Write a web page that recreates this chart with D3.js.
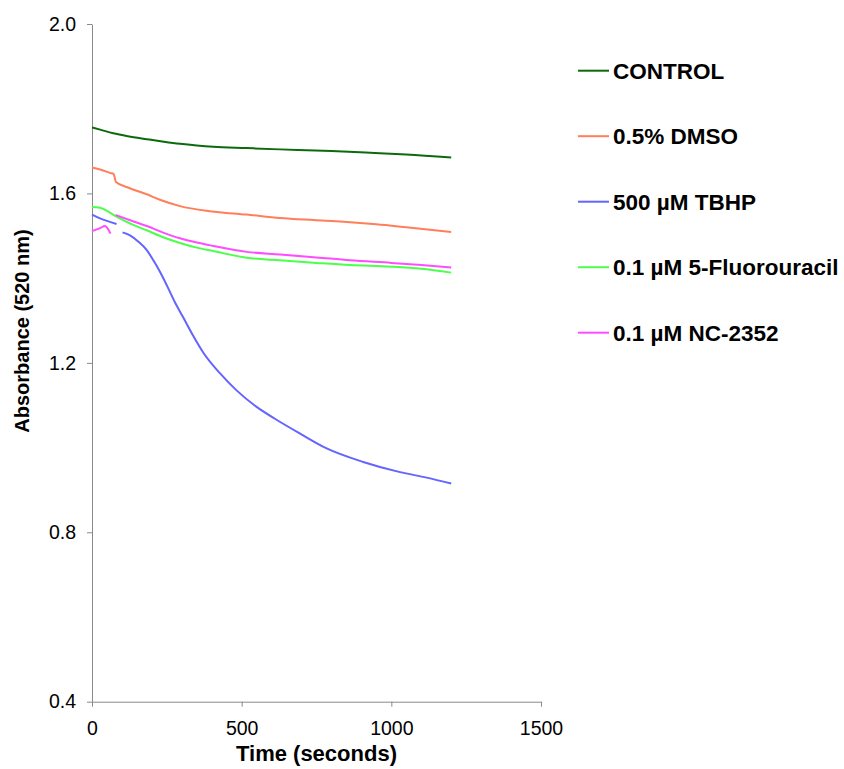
<!DOCTYPE html>
<html>
<head>
<meta charset="utf-8">
<script src="https://cdn.jsdelivr.net/npm/d3@7"></script>
<style>
  html, body { margin: 0; padding: 0; background: #fff; }
  svg { display: block; font-family: Arial, "Liberation Sans", sans-serif; }
</style>
</head>
<body>
<svg id="chart" width="844" height="769"></svg>
<script>
// ---- Data ----
const seriesNames = ["CONTROL", "0.5% DMSO", "500 µM TBHP", "0.1 µM 5-Fluorouracil", "0.1 µM NC-2352"];
const seriesColors = ["#0b6b0b", "#ff7f5a", "#6464ff", "#4cff4c", "#ff4cff"];

const controlTime = [0, 30, 71, 120, 183, 240, 294, 350, 405, 517, 628, 717, 800, 929, 1050, 1200];
const controlAbs  = [1.756, 1.750, 1.742, 1.735, 1.728, 1.722, 1.717, 1.713, 1.710, 1.707, 1.704, 1.702, 1.700, 1.696, 1.692, 1.685];

const dmsoTime = [0, 30, 62, 72, 80, 120, 183, 227, 294, 394, 517, 628, 740, 840, 950, 1050, 1200];
const dmsoAbs  = [1.661, 1.656, 1.648, 1.646, 1.627, 1.614, 1.598, 1.585, 1.570, 1.558, 1.550, 1.542, 1.537, 1.533, 1.527, 1.520, 1.509];

// null marks a gap in the recorded trace
const tbhpTime = [0, 27, 82, 92, 102, 127, 155, 183, 205, 227, 250, 277, 305, 338, 372, 428, 483, 550, 611, 695, 784, 906, 1029, 1118, 1200];
const tbhpAbs  = [1.550, 1.541, 1.528, null, 1.508, 1.501, 1.486, 1.466, 1.442, 1.415, 1.383, 1.343, 1.307, 1.264, 1.224, 1.175, 1.135, 1.096, 1.068, 1.033, 0.998, 0.966, 0.942, 0.929, 0.915];

const fuTime = [0, 27, 82, 130, 183, 240, 294, 350, 405, 517, 628, 750, 862, 1000, 1100, 1200];
const fuAbs  = [1.568, 1.566, 1.545, 1.528, 1.513, 1.496, 1.483, 1.472, 1.464, 1.448, 1.442, 1.436, 1.431, 1.427, 1.422, 1.413];

const ncTime = [0, 27, 43, 62, 70, 79, 130, 183, 240, 294, 350, 405, 517, 628, 750, 862, 1000, 1100, 1200];
const ncAbs  = [1.511, 1.518, 1.523, 1.505, null, 1.549, 1.536, 1.523, 1.507, 1.494, 1.484, 1.476, 1.462, 1.456, 1.449, 1.442, 1.436, 1.431, 1.425];

const xTicks = [0, 500, 1000, 1500];
const yTicks = [0.4, 0.8, 1.2, 1.6, 2.0];
const xTitle = "Time (seconds)";
const yTitle = "Absorbance (520 nm)";

const seriesTimes = [controlTime, dmsoTime, tbhpTime, fuTime, ncTime];
const seriesValues = [controlAbs, dmsoAbs, tbhpAbs, fuAbs, ncAbs];

// ---- Layout ----
const svg = d3.select("#chart");
const margin = { left: 92, top: 24, right: 844 - 541, bottom: 769 - 701.7 };
const W = 844 - margin.left - margin.right;
const H = 769 - margin.top - margin.bottom;

const x = d3.scaleLinear().domain([0, 1500]).range([0, W]);
const y = d3.scaleLinear().domain([0.4, 2.0]).range([H, 0]);

const g = svg.append("g").attr("transform", `translate(${margin.left},${margin.top})`);

const axisColor = "#8a8a8a";
const tickFont = "19.5px";

// x axis
const xAxis = g.append("g")
  .attr("transform", `translate(0,${H})`)
  .call(d3.axisBottom(x).tickValues(xTicks).tickFormat(d3.format("d")).tickSize(5).tickSizeOuter(0).tickPadding(14.5));
xAxis.select(".domain").attr("stroke", axisColor);
xAxis.selectAll(".tick line").attr("stroke", axisColor);
xAxis.selectAll(".tick text").attr("fill", "#000").style("font-size", tickFont).style("font-family", "Arial, 'Liberation Sans', sans-serif");

// y axis
const yAxis = g.append("g")
  .call(d3.axisLeft(y).tickValues(yTicks).tickFormat(d3.format(".1f")).tickSize(5).tickSizeOuter(0).tickPadding(11));
yAxis.select(".domain").attr("stroke", axisColor);
yAxis.selectAll(".tick line").attr("stroke", axisColor);
yAxis.selectAll(".tick text").attr("fill", "#000").style("font-size", tickFont).style("font-family", "Arial, 'Liberation Sans', sans-serif");

// lines
const line = d3.line()
  .defined(d => d.v !== null)
  .curve(d3.curveMonotoneX)
  .x(d => x(d.t))
  .y(d => y(d.v));

seriesNames.forEach((name, i) => {
  const pts = seriesTimes[i].map((t, j) => ({ t: t, v: seriesValues[i][j] }));
  g.append("path")
    .datum(pts)
    .attr("fill", "none")
    .attr("stroke", seriesColors[i])
    .attr("stroke-width", 2)
    .attr("stroke-linejoin", "round")
    .attr("d", line);
});

// axis titles
svg.append("text")
  .attr("x", margin.left + W / 2)
  .attr("y", 761)
  .attr("text-anchor", "middle")
  .style("font-size", "22px")
  .style("font-weight", "bold")
  .text(xTitle);

svg.append("text")
  .attr("transform", `translate(29,${331}) rotate(-90)`)
  .attr("text-anchor", "middle")
  .style("font-size", "20px")
  .style("font-weight", "bold")
  .text(yTitle);

// legend
const legend = svg.append("g").attr("transform", "translate(578,70.7)");
seriesNames.forEach((name, i) => {
  const row = legend.append("g").attr("transform", `translate(0,${i * 65.5})`);
  row.append("line").attr("x1", 0).attr("x2", 31).attr("y1", 0).attr("y2", 0)
    .attr("stroke", seriesColors[i]).attr("stroke-width", 2);
  row.append("text").attr("x", 35).attr("y", 0).attr("dy", "0.36em")
    .style("font-size", "22.5px").style("font-weight", "bold").text(name);
});
</script>
</body>
</html>
